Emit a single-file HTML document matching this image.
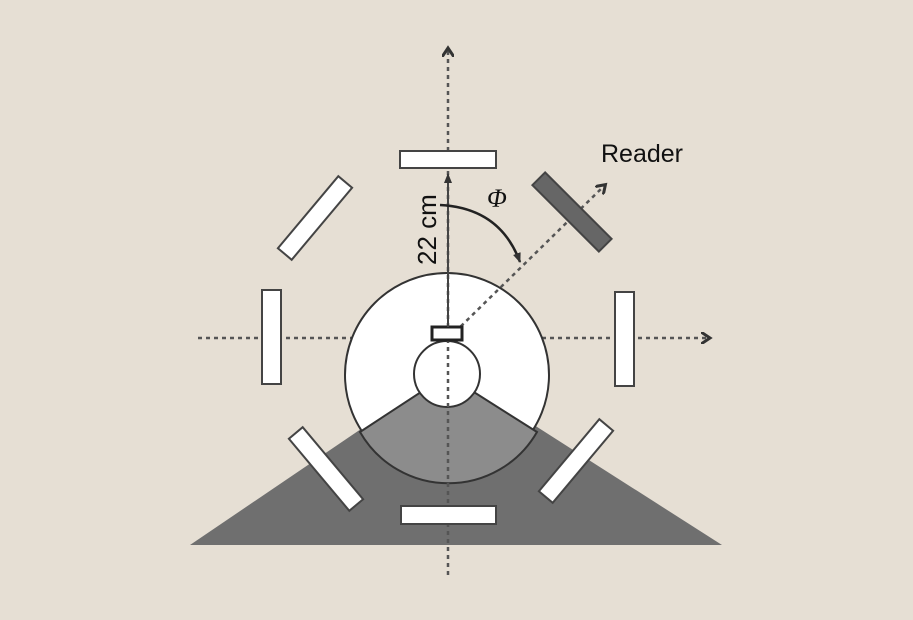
<!DOCTYPE html>
<html><head><style>body{margin:0;background:#e6dfd4}svg{display:block}</style></head><body>
<svg width="913" height="620" viewBox="0 0 913 620" xmlns="http://www.w3.org/2000/svg">
<rect width="913" height="620" fill="#e6dfd4"/>
<defs>
<marker id="ah" markerWidth="12" markerHeight="12" refX="7" refY="6" orient="auto" markerUnits="userSpaceOnUse"><path d="M0,0 L9,6 L0,12" fill="none" stroke="#333" stroke-width="3"/></marker>
<marker id="sa" markerWidth="10" markerHeight="10" refX="9" refY="5" orient="auto" markerUnits="userSpaceOnUse"><path d="M0,1 L10,5 L0,9 Z" fill="#333"/></marker>
</defs>
<polygon points="190,545 448,370 722,545" fill="#6f6f6f"/>
<line x1="198" y1="338" x2="708" y2="338" stroke="#555" stroke-width="2.5" stroke-dasharray="4,4" marker-end="url(#ah)"/>
<circle cx="447" cy="375" r="102" fill="#fff" stroke="#333" stroke-width="2"/>
<path d="M447,375 L360,432 A102,102 0 0,0 537,432 Z" fill="#8c8c8c" stroke="#333" stroke-width="2"/>
<circle cx="447" cy="374" r="33" fill="#fff" stroke="#333" stroke-width="2"/>
<g stroke="#555" stroke-width="2.5" stroke-dasharray="4,4" fill="none">
<line x1="448" y1="575" x2="448" y2="50" marker-end="url(#ah)"/>
<line x1="455" y1="332" x2="604" y2="186" marker-end="url(#ah)"/>
</g>
<g fill="#fff" stroke="#444" stroke-width="2">
<rect x="400" y="151" width="96" height="17"/>
<rect x="401" y="506" width="95" height="18"/>
<rect x="262" y="290" width="19" height="94"/>
<rect x="615" y="292" width="19" height="94"/>
<rect x="-47" y="-9" width="94" height="18" transform="translate(315,218) rotate(-50)"/>
<rect x="-47" y="-9" width="94" height="18" transform="translate(326,469) rotate(50)"/>
<rect x="-47" y="-9" width="94" height="18" transform="translate(576,461) rotate(-50)"/>
<rect x="-47" y="-9" width="94" height="18" transform="translate(572,212) rotate(45)" fill="#666"/>
</g>
<rect x="432" y="327" width="30" height="13" fill="#fff" stroke="#222" stroke-width="3"/>
<line x1="448" y1="327" x2="448" y2="174" stroke="#444" stroke-width="2" marker-end="url(#sa)"/>
<path d="M440,205 Q500,208 520,262" fill="none" stroke="#222" stroke-width="2.5" marker-end="url(#sa)"/>
<text x="0" y="0" transform="translate(436,265) rotate(-90)" font-family="Liberation Sans, sans-serif" font-size="26" fill="#111">22 cm</text>
<text x="487" y="207" font-family="Liberation Serif, serif" font-style="italic" font-size="26" fill="#111">Φ</text>
<text x="601" y="162" font-family="Liberation Sans, sans-serif" font-size="25" fill="#111">Reader</text>
</svg>
</body></html>
